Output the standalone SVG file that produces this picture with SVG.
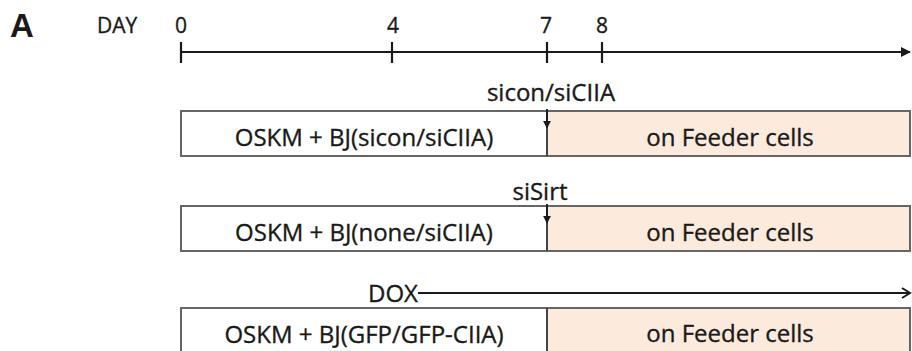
<svg xmlns="http://www.w3.org/2000/svg" width="912" height="351" viewBox="0 0 912 351">
<defs>
<marker id="solid" viewBox="0 0 10 10" refX="9" refY="5" markerWidth="10" markerHeight="10" markerUnits="userSpaceOnUse" orient="auto">
<path d="M0,0 L10,5 L0,10 z" fill="#1a1a1a"/>
</marker>
<marker id="small" viewBox="0 0 10 10" refX="9" refY="5" markerWidth="8" markerHeight="9" markerUnits="userSpaceOnUse" orient="auto">
<path d="M0,0 L10,5 L0,10 z" fill="#1a1a1a"/>
</marker>
<marker id="open" viewBox="0 0 12 12" refX="10" refY="6" markerWidth="12" markerHeight="12" markerUnits="userSpaceOnUse" orient="auto">
<path d="M2,1 L10,6 L2,11" fill="none" stroke="#1a1a1a" stroke-width="2"/>
</marker>
</defs>
<style>
text{font-family:"Open Sans","Liberation Sans",sans-serif;fill:#1a1a1a;stroke:#1a1a1a;stroke-width:0.35}
.lbl{font-size:24px;text-anchor:middle}
.day{font-size:21px;text-anchor:middle}
.box{fill:#ffffff;stroke:#666666;stroke-width:2}
.feed{fill:#fcebdd;stroke:none}
.div{stroke:#444444;stroke-width:2}
.ln{stroke:#1a1a1a;stroke-width:2.2;fill:none}
.arr{stroke:#1a1a1a;stroke-width:1.8;fill:none}
</style>
<rect width="912" height="351" fill="#ffffff"/>
<text x="10" y="37" style="font-family:'Liberation Sans',Arial,sans-serif;font-weight:bold;font-size:33px;stroke:none">A</text>
<g id="timeline-labels">
<text x="97" y="33" style="font-size:21px">DAY</text>
<text class="day" x="181" y="33">0</text>
<text class="day" x="393" y="33">4</text>
<text class="day" x="546" y="33">7</text>
<text class="day" x="602" y="33">8</text>
</g>
<g id="row1">
<rect class="box" x="181" y="111" width="729" height="45"/>
<rect class="feed" x="548" y="112" width="361" height="43"/>
<line class="div" x1="547" y1="111" x2="547" y2="156"/>
<text class="lbl" x="364" y="146">OSKM + BJ(sicon/siCIIA)</text>
<text class="lbl" x="730" y="146">on Feeder cells</text>
<text class="lbl" x="551" y="101">sicon/siCIIA</text>
</g>
<g id="row2">
<rect class="box" x="181" y="206" width="729" height="45"/>
<rect class="feed" x="548" y="207" width="361" height="43"/>
<line class="div" x1="547" y1="206" x2="547" y2="251"/>
<text class="lbl" x="364" y="241">OSKM + BJ(none/siCIIA)</text>
<text class="lbl" x="730" y="241">on Feeder cells</text>
<text class="lbl" x="540" y="200">siSirt</text>
</g>
<g id="row3">
<rect class="box" x="181" y="308" width="729" height="46"/>
<rect class="feed" x="548" y="309" width="361" height="44"/>
<line class="div" x1="547" y1="308" x2="547" y2="354"/>
<text class="lbl" x="364" y="343">OSKM + BJ(GFP/GFP-CIIA)</text>
<text class="lbl" x="730" y="342">on Feeder cells</text>
<text class="lbl" x="393" y="302">DOX</text>
</g>
<g id="connectors">
<line class="ln" x1="181" y1="52" x2="910" y2="52" marker-end="url(#solid)"/>
<line class="ln" x1="181" y1="42" x2="181" y2="63"/>
<line class="ln" x1="392" y1="42" x2="392" y2="63"/>
<line class="ln" x1="547" y1="42" x2="547" y2="63"/>
<line class="ln" x1="602" y1="42" x2="602" y2="63"/>
<line class="arr" x1="547" y1="109" x2="547" y2="128" marker-end="url(#small)"/>
<line class="arr" x1="547" y1="204" x2="547" y2="223" marker-end="url(#small)"/>
<line class="ln" x1="418" y1="293" x2="910" y2="293" marker-end="url(#open)"/>
</g>
</svg>
